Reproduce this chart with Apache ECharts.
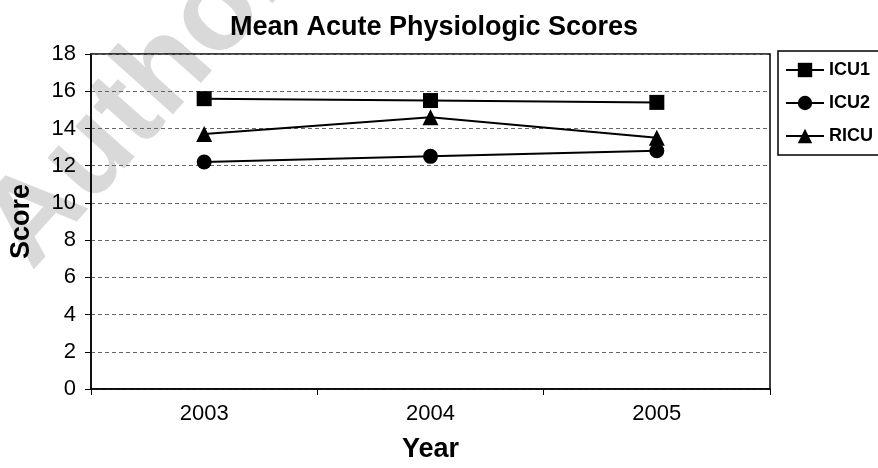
<!DOCTYPE html>
<html><head><meta charset="utf-8">
<script src="https://cdn.jsdelivr.net/npm/echarts@6/dist/echarts.min.js"></script>
<style>html,body{margin:0;padding:0;background:#fff}#c{width:878px;height:468px}</style>
</head><body><div id="c"></div>
<script>
const years = ['2003', '2004', '2005'];
const icu1 = [15.6, 15.5, 15.4];
const icu2 = [12.2, 12.5, 12.8];
const ricu = [13.7, 14.6, 13.5];
const yTicks = {min: 0, max: 18, interval: 2};

const chart = echarts.init(document.getElementById('c'), null, {renderer: 'canvas'});
const font = 'Liberation Sans, Arial, sans-serif';
function ser(name, data, symbol, size) {
  return {name, type: 'line', data, symbol, symbolSize: size, z: 5,
    lineStyle: {color: '#000', width: 2}, itemStyle: {color: '#000'}};
}
chart.setOption({
  animation: false,
  textStyle: {fontFamily: font},
  graphic: [{type: 'text', z: -10, x: 52, y: 290, rotation: 0.84,
    style: {text: 'Author Manuscript', fill: '#d9d9d9', font: 'bold 122px ' + font, verticalAlign: 'bottom'}}],
  title: {text: 'Mean Acute Physiologic Scores', left: 225, top: 9,
    textStyle: {fontSize: 27, fontWeight: 'bold', color: '#000', fontFamily: font}},
  legend: {orient: 'vertical', left: 778, top: 51, itemWidth: 38, itemHeight: 18, itemGap: 15,
    padding: [10, 12, 10, 7], borderColor: '#000', borderWidth: 1.5,
    lineStyle: {width: 2, color: '#000'},
    textStyle: {fontSize: 18, fontWeight: 'bold', color: '#000'},
    data: ['ICU1', 'ICU2', 'RICU']},
  grid: {left: 88, right: 108, top: 54, bottom: 74, show: true, borderColor: '#000', borderWidth: 1.5},
  xAxis: {type: 'category', data: years, boundaryGap: true,
    name: 'Year', nameLocation: 'middle', nameGap: 47,
    nameTextStyle: {fontSize: 27, fontWeight: 'bold', color: '#000'},
    axisLine: {lineStyle: {color: '#000', width: 1.5}},
    axisTick: {show: true, length: 6, lineStyle: {color: '#000'}},
    axisLabel: {fontSize: 22, color: '#000', margin: 14}},
  yAxis: {type: 'value', min: yTicks.min, max: yTicks.max, interval: yTicks.interval,
    name: 'Score', nameLocation: 'middle', nameGap: 56, nameRotate: 90,
    nameTextStyle: {fontSize: 27, fontWeight: 'bold', color: '#000'},
    axisLine: {show: true, lineStyle: {color: '#000', width: 1.5}},
    axisTick: {show: true, length: 6, lineStyle: {color: '#000'}},
    axisLabel: {fontSize: 22, color: '#000', margin: 15},
    splitLine: {lineStyle: {color: '#666', type: [4, 3], width: 1}}},
  series: [ser('ICU1', icu1, 'rect', 15), ser('ICU2', icu2, 'circle', 15), ser('RICU', ricu, 'triangle', 16)]
});
</script></body></html>
